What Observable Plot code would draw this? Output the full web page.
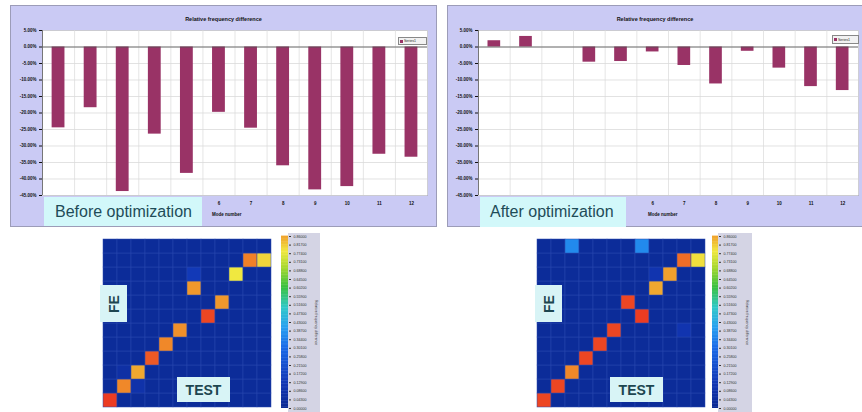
<!DOCTYPE html>
<html><head><meta charset="utf-8">
<script src="https://cdn.jsdelivr.net/npm/d3@7"></script>
<script src="https://cdn.jsdelivr.net/npm/@observablehq/plot@0.6"></script>
<style>
html,body{margin:0;padding:0;background:#fff}
body{width:862px;height:412px;overflow:hidden;position:relative;font-family:"Liberation Sans",Arial,sans-serif}
.abs{position:absolute}
.panel{background:#cacaf4;border:1px solid #9c9cb8;box-sizing:border-box}
.title{font-size:5.5px;font-weight:bold;color:#111;text-align:center;white-space:nowrap}
.axlab{font-size:4.5px;font-weight:bold;color:#111;white-space:nowrap}
.legend{background:#f2f2f2;border:1px solid #888;box-sizing:border-box;font-size:3.5px;color:#222;display:flex;align-items:center;gap:1px;padding-left:1px;white-space:nowrap}
.legend i{display:inline-block;width:3px;height:3px;background:#993366}
.cap{background:#d2f8fa;color:#1e4c58;font-size:16px;display:flex;align-items:center;box-sizing:border-box;white-space:nowrap}
.lbl{background:#d8f4f6;color:#1d4650;font-weight:bold;font-size:14px;display:flex;align-items:center;justify-content:center;box-sizing:border-box}
.cbg{background:#d4d4e4}
.vt{font-size:3.5px;color:#333;writing-mode:vertical-rl;white-space:nowrap}
</style>
</head><body>
<script>
// ---------- data ----------
const modes = [1,2,3,4,5,6,7,8,9,10,11,12];
const beforeDiff = [-24.5,-18.4,-43.8,-26.4,-38.3,-19.8,-24.6,-36.0,-43.3,-42.3,-32.5,-33.4];
const afterDiff  = [1.9,3.2,0,-4.6,-4.4,-1.5,-5.6,-11.2,-1.3,-6.4,-12.0,-13.2];
const yTicks = [5,0,-5,-10,-15,-20,-25,-30,-35,-40,-45];
const visibleModeTicks = [6,7,8,9,10,11,12];
const chartTitle = "Relative frequency difference";
const xTitle = "Mode number";
const seriesName = "Series1";
// MAC cells: [TEST mode (column), FE mode (row), value]
const macBefore = [[1,1,0.97],[2,2,0.89],[3,3,0.85],[4,4,0.94],[5,5,0.89],[6,6,0.88],[8,7,0.96],[9,8,0.87],[7,9,0.87],[10,10,0.78],[11,11,0.90],[12,11,0.80],[7,10,0.13],[2,3,0.06],[3,2,0.08]];
const macAfter  = [[1,1,0.96],[2,2,0.96],[3,3,0.89],[4,4,0.96],[5,5,0.96],[6,6,0.96],[8,7,0.97],[7,8,0.96],[9,9,0.85],[10,10,0.86],[11,11,0.92],[12,11,0.79],[3,12,0.36],[8,12,0.36],[9,10,0.1],[11,6,0.1]];
const macBackground = 0.02;
const colorbarMax = 0.86;
const colorbarTicks = d3.range(0,21).map(i => i*colorbarMax/20);
const colorStops = [0,0.12,0.3,0.4,0.5,0.6,0.7,0.78,0.84,0.9,0.97,1];
const colorRange = ["#0b2a94","#1236b4","#1a6ae8","#28a0f0","#30c8c8","#38c040","#a8d830","#f0e840","#f0b030","#f08028","#ec3c22","#e82818"];

const FONT = '"Liberation Sans",Arial,sans-serif';

function place(el, left, top, w, h, cls) {
  const d = document.createElement("div");
  d.className = "abs " + (cls||"");
  d.style.left = left+"px"; d.style.top = top+"px";
  if (w!=null) d.style.width = w+"px";
  if (h!=null) d.style.height = h+"px";
  if (el) d.appendChild(el);
  document.body.appendChild(d);
  return d;
}

function barChart(values, w, h, ml, mr, mt, mb) {
  const data = modes.map((m,i) => ({mode:m, value:values[i]}));
  const bounds = d3.range(modes.length+1).map(i => i+0.5);
  return Plot.plot({
    width:w, height:h, marginLeft:ml, marginRight:mr, marginTop:mt, marginBottom:mb,
    style:{background:"transparent", fontFamily:FONT, fontSize:"4.5px", fontWeight:"bold", color:"#111"},
    x:{domain:[0.5,12.5], ticks:visibleModeTicks, tickSize:0, tickPadding:6, label:null},
    y:{domain:[-45,5], ticks:yTicks, tickSize:3, tickPadding:3, tickFormat:d => d.toFixed(2)+"%", label:null},
    marks:[
      Plot.frame({fill:"#ffffff", stroke:"#b4b4c8"}),
      Plot.ruleY(yTicks, {stroke:"#d6d6d6", strokeWidth:0.7}),
      Plot.ruleX(bounds, {stroke:"#dadada", strokeWidth:0.7}),
      Plot.rectY(data, {x1:d => d.mode-0.2, x2:d => d.mode+0.2, y1:0, y2:"value", fill:"#993366"}),
      Plot.ruleY([0], {stroke:"#505050", strokeWidth:0.8}),
      Plot.ruleX([0.5], {stroke:"#606060", strokeWidth:0.8})
    ]
  });
}

const colorOpts = {type:"linear", domain:colorStops, range:colorRange};

function heatmap(cells, size) {
  const lookup = new Map(cells.map(c => [c[0]+"-"+c[1], c[2]]));
  const grid = [];
  for (const r of modes) for (const c of modes) grid.push({col:c, row:r, v: lookup.get(c+"-"+r) ?? macBackground});
  return Plot.plot({
    width:size, height:size, margin:0,
    style:{background:"transparent"},
    x:{type:"band", domain:modes, padding:0, axis:null},
    y:{type:"band", domain:modes.slice().reverse(), padding:0, axis:null},
    color:colorOpts,
    marks:[Plot.cell(grid, {x:"col", y:"row", fill:"v", stroke:"#2a48b0", strokeWidth:0.5})]
  });
}

function colorbar(h, stripW, labW) {
  const steps = d3.range(0, colorbarMax, colorbarMax/120);
  return Plot.plot({
    width:stripW+labW, height:h, marginLeft:0, marginRight:labW, marginTop:3, marginBottom:3,
    style:{background:"transparent", fontFamily:FONT, fontSize:"3.6px", color:"#333"},
    x:{axis:null, domain:[0,1]},
    y:{axis:"right", domain:[0,colorbarMax], ticks:colorbarTicks, tickFormat:d3.format(".5f"), tickSize:2, tickPadding:3, label:null},
    color:colorOpts,
    marks:[
      Plot.rect(steps, {x1:0, x2:1, y1:d => d, y2:d => d + colorbarMax/120 + 0.002, fill:d => d})
    ]
  });
}

// ---------- top-left panel ----------
const pL = place(null, 10, 5, 427, 222, "panel");
pL.appendChild(barChart(beforeDiff, 425, 220, 31, 9, 24, 31));
place(null, 10, 16, 427, null, "title").textContent = chartTitle;
const lgL = place(null, 398, 37, 29, 8, "legend"); lgL.innerHTML = "<i></i>"+seriesName;
const mxL = place(null, 212, 212, null, null, "axlab"); mxL.textContent = xTitle;
const capL = place(null, 44, 197, 158, 29, "cap"); capL.style.paddingLeft = "11px"; capL.textContent = "Before optimization";

// ---------- top-right panel ----------
const pR = place(null, 447, 5, 416, 222, "panel");
pR.appendChild(barChart(afterDiff, 414, 220, 30, 4, 24, 31));
place(null, 447, 16, 416, null, "title").textContent = chartTitle;
const lgR = place(null, 832, 35, 27, 9, "legend"); lgR.innerHTML = "<i></i>"+seriesName;
const mxR = place(null, 648, 212, null, null, "axlab"); mxR.textContent = xTitle;
const capR = place(null, 480, 197, 146, 30, "cap"); capR.style.paddingLeft = "10px"; capR.textContent = "After optimization";

// ---------- bottom-left heatmap ----------
place(null, 288, 233, 32, 179, "cbg");
place(heatmap(macBefore, 177), 98, 234);
place(colorbar(178, 7, 33), 281, 233);
place(null, 314, 300, null, null, "vt").textContent = chartTitle;
const feL = place(null, 100, 285, 27, 37, "lbl"); feL.innerHTML = '<span style="display:inline-block;transform:rotate(-90deg)">FE</span>';
place(null, 177, 377, 53, 25, "lbl").textContent = "TEST";

// ---------- bottom-right heatmap ----------
place(null, 718, 233, 34, 179, "cbg");
place(heatmap(macAfter, 178), 532, 234);
place(colorbar(178, 6, 34), 712, 233);
place(null, 745, 300, null, null, "vt").textContent = chartTitle;
const feR = place(null, 535, 285, 27, 37, "lbl"); feR.innerHTML = '<span style="display:inline-block;transform:rotate(-90deg)">FE</span>';
place(null, 610, 377, 53, 25, "lbl").textContent = "TEST";
</script>
</body></html>
